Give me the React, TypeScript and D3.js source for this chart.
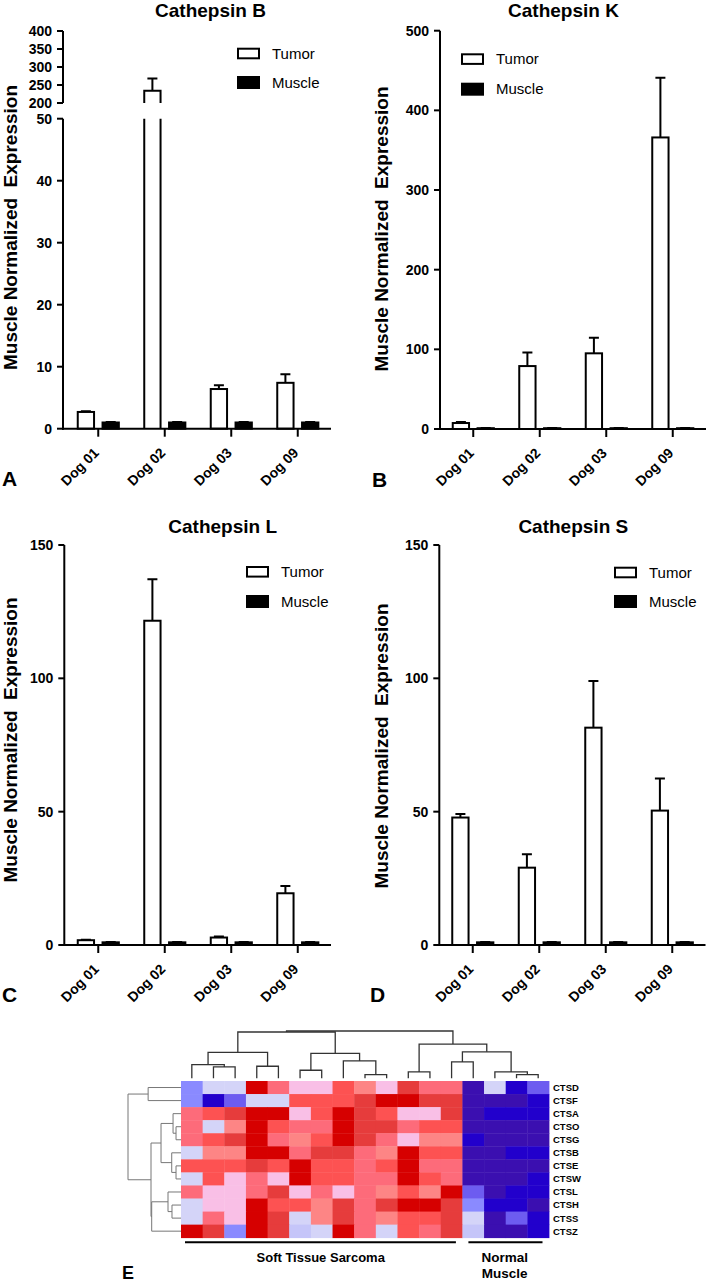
import React from "react";
import * as d3 from "d3";

const FONT = "'Liberation Sans', Arial, Helvetica, sans-serif";

// ---------- bar chart data ----------
const dogs = ["Dog 01", "Dog 02", "Dog 03", "Dog 09"];
const seriesNames = ["Tumor", "Muscle"];

const catBTumor = [2.7, 234, 6.4, 7.4];
const catBTumorErr = [0.1, 34, 0.6, 1.4];
const catKTumor = [7.5, 79, 95, 366];
const catKTumorErr = [1.2, 17, 19.5, 75];
const catLTumor = [1.8, 121.6, 2.8, 19.4];
const catLTumorErr = [0.2, 15.6, 0.4, 2.7];
const catSTumor = [47.8, 29, 81.5, 50.4];
const catSTumorErr = [1.3, 5, 17.5, 12];
const muscleValues = [1, 1, 1, 1];
const muscleErr = [0.1, 0.1, 0.1, 0.1];

const ticksBLow = [0, 10, 20, 30, 40, 50];
const ticksBHigh = [200, 250, 300, 350, 400];
const ticksK = [0, 100, 200, 300, 400, 500];
const ticksLS = [0, 50, 100, 150];

const yLabel = "Muscle Normalized\u00a0 Expression";

// ---------- heatmap data ----------
const genes = ["CTSD", "CTSF", "CTSA", "CTSO", "CTSG", "CTSB", "CTSE", "CTSW", "CTSL", "CTSH", "CTSS", "CTSZ"];
const groupLabels = ["Soft Tissue Sarcoma", "Normal", "Muscle"];
const sarcomaCount = 13;
const muscleCount = 4;

const rowCTSD = [-1.5, -0.5, -0.5, 3, 1.5, 0.5, 0.5, 2, 1.2, 0.5, 2.4, 1.5, 1.5, -3, -0.5, -2.6, -2];
const rowCTSF = [-1.5, -2.6, -2, -0.5, -0.5, 2, 2, 2, 2.4, 3, 3, 2.4, 2.4, -3, -3, -3, -2.6];
const rowCTSA = [1.5, 2, 2.4, 3, 3, 0.5, 2, 3, 2.4, 2, 0.5, 0.5, 2.4, -3, -2.6, -2.6, -2.6];
const rowCTSO = [1.5, -0.5, 1.2, 3, 2, 1.5, 1.5, 3, 2.4, 2.4, 1.5, 2, 2, -3, -3, -3, -3];
const rowCTSG = [1.5, 2, 2.4, 3, 1.5, 1.2, 2, 3, 2.4, 1.5, 0.5, 1.2, 1.2, -2.6, -3, -3, -3];
const rowCTSB = [-0.5, 1.2, 1.2, 3, 3, 1.5, 2.4, 2.4, 1.5, 1.2, 3, 2, 2, -3, -3, -2.6, -2.6];
const rowCTSE = [2, 2, 2, 2.4, 2, 3, 2, 2, 1.5, 2, 3, 1.5, 1.5, -3, -3, -3, -3];
const rowCTSW = [-0.5, 2, 0.5, 1.5, 0.5, 3, 2, 2, 1.5, 1.5, 3, 2, 1.5, -3, -3, -3, -2.6];
const rowCTSL = [1.5, 0.5, 0.5, 1.5, 2.4, 0.5, 1.5, 0.5, 1.5, 1.2, 2, 1.2, 3, -2, -3, -2.6, -2.6];
const rowCTSH = [-0.5, 0.5, 0.5, 3, 2, 2, 1.2, 2.4, 1.5, 2.4, 3, 3, 2.4, -1.5, -2.6, -2.6, -3];
const rowCTSS = [-0.5, 1.5, 0.5, 3, 2.4, -0.5, 1.2, 2.4, 1.5, 1.2, 2, 2, 2.4, -0.5, -3, -2, -2.6];
const rowCTSZ = [3, 2.4, -1.5, 3, 2.4, -0.7, -0.5, 3, 1.5, -0.5, 2, 1.5, 2.4, -0.7, -3, -3, -2.6];
const heatRows = [rowCTSD, rowCTSF, rowCTSA, rowCTSO, rowCTSG, rowCTSB, rowCTSE, rowCTSW, rowCTSL, rowCTSH, rowCTSS, rowCTSZ];

const colorStops = [-3, -2.6, -2, -1.5, -0.5, 0.5, 1.2, 1.5, 2, 2.4, 3];
const colorValues = ["#3b0fb0", "#2200cc", "#6d5cf0", "#8a8aff", "#d4d4f8", "#f9bfe6", "#fd8585", "#fd6b7a", "#fd5252", "#e63c3c", "#d60000"];

// linkage: [childA, childB, height]; indices >= n refer to earlier merges
const colLinkage: [number, number, number][] = [
  [1, 2, 0.24], [0, 17, 0.29], [3, 4, 0.255], [18, 19, 0.547],
  [5, 6, 0.17], [8, 9, 0.079], [7, 22, 0.368], [21, 23, 0.526],
  [20, 24, 0.979], [10, 11, 0.134], [12, 13, 0.347], [15, 16, 0.079],
  [14, 28, 0.134], [27, 29, 0.56], [26, 30, 0.723], [25, 31, 1.0],
];
const rowLinkage: [number, number, number][] = [
  [0, 1, 0.62], [3, 4, 0.094], [2, 13, 0.15], [6, 7, 0.094],
  [5, 15, 0.175], [14, 16, 0.377], [9, 10, 0.17], [8, 18, 0.245],
  [19, 11, 0.553], [17, 20, 0.566], [12, 21, 1.0],
];

// ---------- layout ----------
type Seg = { domain: [number, number]; range: [number, number]; ticks: number[] };
type Panel = {
  title: string; tumor: number[]; err: number[]; segs: Seg[];
  axisX: number; xRange: [number, number]; titleX: number; titleY: number;
  legX: number; legY: number; legY2: number; labX: number; labY: number;
  letter: string; letterX: number; letterY: number;
};

const panels: Panel[] = [
  {
    title: "Cathepsin B", tumor: catBTumor, err: catBTumorErr,
    segs: [
      { domain: [0, 50], range: [428.7, 118.7], ticks: ticksBLow },
      { domain: [200, 400], range: [103, 31], ticks: ticksBHigh },
    ],
    axisX: 63, xRange: [65, 331], titleX: 210.5, titleY: 17,
    legX: 237, legY: 47.7, legY2: 76, labX: 17, labY: 227.5,
    letter: "A", letterX: 2, letterY: 486,
  },
  {
    title: "Cathepsin K", tumor: catKTumor, err: catKTumorErr,
    segs: [{ domain: [0, 500], range: [429, 30.7], ticks: ticksK }],
    axisX: 440, xRange: [440, 706], titleX: 563.5, titleY: 17,
    legX: 461, legY: 53.3, legY2: 82.7, labX: 388, labY: 229,
    letter: "B", letterX: 372, letterY: 487,
  },
  {
    title: "Cathepsin L", tumor: catLTumor, err: catLTumorErr,
    segs: [{ domain: [0, 150], range: [945, 545], ticks: ticksLS }],
    axisX: 64.3, xRange: [65, 331], titleX: 222.7, titleY: 532.5,
    legX: 246, legY: 566, legY2: 595, labX: 16.5, labY: 740,
    letter: "C", letterX: 2, letterY: 1002,
  },
  {
    title: "Cathepsin S", tumor: catSTumor, err: catSTumorErr,
    segs: [{ domain: [0, 150], range: [945, 545], ticks: ticksLS }],
    axisX: 439.3, xRange: [439.5, 705.5], titleX: 573.3, titleY: 533,
    legX: 614, legY: 566.7, legY2: 595, labX: 388, labY: 746,
    letter: "D", letterX: 370, letterY: 1002,
  },
];

function segScale(s: Seg) {
  return d3.scaleLinear().domain(s.domain).range(s.range);
}
function yOf(segs: Seg[], v: number) {
  const s = segs.find((g) => v <= g.domain[1]) || segs[segs.length - 1];
  return segScale(s)(v);
}

function Bar({ segs, v, x, w, fill }: { segs: Seg[]; v: number; x: number; w: number; fill: string }) {
  const els: React.ReactNode[] = [];
  segs.forEach((s, i) => {
    const sc = segScale(s);
    if (v < s.domain[0]) return;
    const yb = s.range[0];
    if (v > s.domain[1] && i < segs.length - 1) {
      const yt = s.range[1];
      els.push(<rect key={"f" + i} x={x} y={yt} width={w} height={yb - yt} fill={fill} stroke="none" />);
      els.push(<path key={"p" + i} d={`M${x},${yb}V${yt}M${x + w},${yb}V${yt}`} stroke="#000" strokeWidth={2} fill="none" />);
    } else {
      const yt = sc(v);
      if (i === 0) {
        els.push(<rect key={"r" + i} x={x} y={yt} width={w} height={yb - yt} fill={fill} stroke="#000" strokeWidth={2} />);
      } else {
        els.push(<rect key={"f" + i} x={x} y={yt} width={w} height={yb - yt} fill={fill} stroke="none" />);
        els.push(<path key={"p" + i} d={`M${x},${yb}V${yt}H${x + w}V${yb}`} stroke="#000" strokeWidth={2} fill="none" />);
      }
    }
  });
  return <g>{els}</g>;
}

function BarPanel({ p }: { p: Panel }) {
  const x = d3.scaleBand<string>().domain(dogs).range(p.xRange).padding(0);
  const y0 = p.segs[0].range[0];
  const barW = 16.3;
  const tumorOff = -20.5;
  const muscleOff = 4.3;
  return (
    <g fontFamily={FONT}>
      <text x={p.titleX} y={p.titleY} textAnchor="middle" fontWeight="bold" fontSize={19}>{p.title}</text>
      {p.segs.map((s, i) => {
        const sc = segScale(s);
        return (
          <g key={i}>
            <line x1={p.axisX} x2={p.axisX} y1={s.range[0] + (i === 0 ? 1 : 0)} y2={s.range[1]} stroke="#000" strokeWidth={2} />
            {s.ticks.map((t) => (
              <g key={t}>
                <line x1={p.axisX - 6} x2={p.axisX} y1={sc(t)} y2={sc(t)} stroke="#000" strokeWidth={2} />
                <text x={p.axisX - 11} y={sc(t)} dy="0.36em" textAnchor="end" fontWeight="bold" fontSize={14}>{t}</text>
              </g>
            ))}
          </g>
        );
      })}
      {dogs.map((d, i) => {
        const c = (x(d) as number) + x.bandwidth() / 2;
        const tx = c + tumorOff;
        const mx = c + muscleOff;
        const tv = p.tumor[i];
        const te = p.tumor[i] + p.err[i];
        const mv = muscleValues[i];
        const me = muscleValues[i] + muscleErr[i];
        const tc = tx + barW / 2;
        const mc = mx + barW / 2;
        return (
          <g key={d}>
            <path d={`M${tc},${yOf(p.segs, tv)}V${yOf(p.segs, te)}M${tc - 5},${yOf(p.segs, te)}H${tc + 5}`} stroke="#000" strokeWidth={2} fill="none" />
            <Bar segs={p.segs} v={tv} x={tx} w={barW} fill="#fff" />
            <path d={`M${mc},${yOf(p.segs, mv)}V${yOf(p.segs, me)}M${mc - 5},${yOf(p.segs, me)}H${mc + 5}`} stroke="#000" strokeWidth={2} fill="none" />
            <Bar segs={p.segs} v={mv} x={mx} w={barW} fill="#000" />
            <line x1={c} x2={c} y1={y0} y2={y0 + 8} stroke="#000" strokeWidth={2} />
            <text transform={`translate(${c + 1.5},${y0 + 25}) rotate(-45)`} textAnchor="end" fontWeight="bold" fontSize={14}>{d}</text>
          </g>
        );
      })}
      <line x1={p.axisX - 1} x2={p.xRange[1]} y1={y0} y2={y0} stroke="#000" strokeWidth={2} />
      <rect x={p.legX + 1} y={p.legY + 1} width={21} height={9.6} fill="#fff" stroke="#000" strokeWidth={2} />
      <text x={p.legX + 35} y={p.legY + 10.8} fontSize={15}>{seriesNames[0]}</text>
      <rect x={p.legX + 1} y={p.legY2 + 1} width={21} height={11} fill="#000" stroke="#000" strokeWidth={2} />
      <text x={p.legX + 35} y={p.legY2 + 11.5} fontSize={15}>{seriesNames[1]}</text>
      <text transform={`translate(${p.labX},${p.labY}) rotate(-90)`} textAnchor="middle" fontWeight="bold" fontSize={19}>{yLabel}</text>
      <text x={p.letterX} y={p.letterY} fontWeight="bold" fontSize={21}>{p.letter}</text>
    </g>
  );
}

function Heatmap() {
  const nCols = sarcomaCount + muscleCount;
  const cols = d3.range(nCols);
  const x = d3.scaleBand<number>().domain(cols).range([181, 549]);
  const y = d3.scaleBand<string>().domain(genes).range([1081, 1237.7]);
  const color = d3.scaleLinear<string>().domain(colorStops).range(colorValues).clamp(true);

  const colH = d3.scaleLinear().domain([0, 1]).range([1078.3, 1031]);
  const cPos: number[] = cols.map((c) => (x(c) as number) + x.bandwidth() / 2);
  const cY: number[] = cols.map(() => colH(0));
  const colPaths: string[] = [];
  colLinkage.forEach(([a, b, h], k) => {
    const yy = colH(h);
    colPaths.push(`M${cPos[a]},${cY[a]}V${yy}H${cPos[b]}V${cY[b]}`);
    cPos[nCols + k] = (cPos[a] + cPos[b]) / 2;
    cY[nCols + k] = yy;
  });

  const nRows = genes.length;
  const rowH = d3.scaleLinear().domain([0, 1]).range([181, 128]);
  const rPos: number[] = genes.map((g) => (y(g) as number) + y.bandwidth() / 2);
  const rX: number[] = genes.map(() => rowH(0));
  const rowPaths: string[] = [];
  rowLinkage.forEach(([a, b, h], k) => {
    const xx = rowH(h);
    rowPaths.push(`M${rX[a]},${rPos[a]}H${xx}V${rPos[b]}H${rX[b]}`);
    rPos[nRows + k] = (rPos[a] + rPos[b]) / 2;
    rX[nRows + k] = xx;
  });

  const sarcStart = x(0) as number;
  const sarcEnd = (x(sarcomaCount - 1) as number) + x.bandwidth();
  const musStart = x(sarcomaCount) as number;
  const musEnd = (x(nCols - 1) as number) + x.bandwidth();

  return (
    <g fontFamily={FONT}>
      {heatRows.map((row, r) =>
        row.map((v, c) => (
          <rect key={r + "-" + c} x={x(c)} y={y(genes[r])} width={x.bandwidth() + 0.4} height={y.bandwidth() + 0.4} fill={color(v)} />
        ))
      )}
      {colPaths.map((d, i) => (
        <path key={"c" + i} d={d} stroke="#333" strokeWidth={1.3} fill="none" />
      ))}
      {rowPaths.map((d, i) => (
        <path key={"r" + i} d={d} stroke="#777" strokeWidth={1} fill="none" />
      ))}
      {genes.map((g) => (
        <text key={g} x={553} y={(y(g) as number) + y.bandwidth() / 2} dy="0.36em" fontWeight="bold" fontSize={9.5}>{g}</text>
      ))}
      <line x1={sarcStart + 4} x2={sarcEnd - 6.5} y1={1242.3} y2={1242.3} stroke="#000" strokeWidth={2} />
      <line x1={musStart + 6} x2={musEnd - 6.5} y1={1242.3} y2={1242.3} stroke="#000" strokeWidth={2} />
      <text x={(sarcStart + sarcEnd) / 2 - 1} y={1261.5} textAnchor="middle" fontWeight="bold" fontSize={13}>{groupLabels[0]}</text>
      <text x={(musStart + musEnd) / 2 - 1} y={1261.5} textAnchor="middle" fontWeight="bold" fontSize={13.5}>{groupLabels[1]}</text>
      <text x={(musStart + musEnd) / 2 - 1} y={1277.5} textAnchor="middle" fontWeight="bold" fontSize={13.5}>{groupLabels[2]}</text>
      <text x={122} y={1278.5} fontWeight="bold" fontSize={18}>E</text>
    </g>
  );
}

export default function App() {
  return (
    <svg width={708} height={1281} viewBox="0 0 708 1281" style={{ position: "absolute", left: 0, top: 0, background: "#fff" }}>
      <rect width={708} height={1281} fill="#fff" />
      {panels.map((p) => (
        <BarPanel key={p.title} p={p} />
      ))}
      <Heatmap />
    </svg>
  );
}
